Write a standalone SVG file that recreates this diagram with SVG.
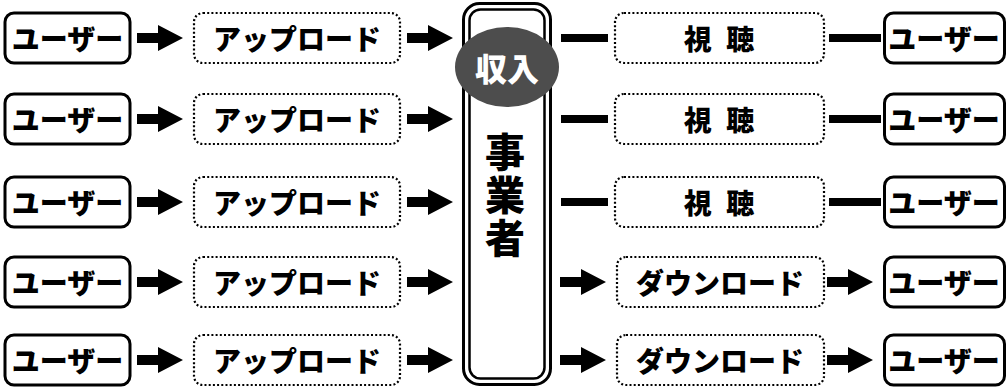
<svg xmlns="http://www.w3.org/2000/svg" width="1007" height="387" viewBox="0 0 1007 387">
<style>
.user{fill:#fff;stroke:#000;stroke-width:3}
.act{fill:#fff;stroke:#000;stroke-width:2.2;stroke-dasharray:2 2.2}
.t{font-family:"Noto Sans CJK JP","Noto Sans CJK SC",sans-serif;font-weight:900;font-size:28px;fill:#000;text-anchor:middle;dominant-baseline:central}
.big{font-size:40px;writing-mode:vertical-rl;letter-spacing:3px}
.w{fill:#fff;font-size:32px}
.sp{word-spacing:8px}
.line{stroke:#000;stroke-width:8}
</style>
<defs>
<path id="arr" d="M0,-5 H21 V-13 L46,0 L21,13 V5 H0 Z" fill="#000"/>
</defs>
<rect width="1007" height="387" fill="#fff"/>
<g id="connectors">
<use href="#arr" x="137" y="38"/>
<use href="#arr" x="137" y="119"/>
<use href="#arr" x="137" y="202"/>
<use href="#arr" x="137" y="282"/>
<use href="#arr" x="137" y="360"/>
<use href="#arr" x="407" y="38"/>
<use href="#arr" x="407" y="119"/>
<use href="#arr" x="407" y="202"/>
<use href="#arr" x="407" y="282"/>
<use href="#arr" x="407" y="360"/>
<line class="line" x1="561" y1="38" x2="608" y2="38"/>
<line class="line" x1="561" y1="119" x2="608" y2="119"/>
<line class="line" x1="561" y1="202" x2="608" y2="202"/>
<use href="#arr" x="560" y="282"/>
<use href="#arr" x="560" y="360"/>
<line class="line" x1="829" y1="38" x2="881" y2="38"/>
<line class="line" x1="829" y1="119" x2="881" y2="119"/>
<line class="line" x1="829" y1="202" x2="881" y2="202"/>
<use href="#arr" x="827" y="282"/>
<use href="#arr" x="827" y="360"/>
</g>
<g id="user-l1"><rect class="user" x="5" y="13" width="125" height="50" rx="9"/><text class="t" x="67.5" y="38">ユーザー</text></g>
<g id="user-l2"><rect class="user" x="5" y="94" width="125" height="50" rx="9"/><text class="t" x="67.5" y="119">ユーザー</text></g>
<g id="user-l3"><rect class="user" x="5" y="177" width="125" height="50" rx="9"/><text class="t" x="67.5" y="202">ユーザー</text></g>
<g id="user-l4"><rect class="user" x="5" y="257" width="125" height="50" rx="9"/><text class="t" x="67.5" y="282">ユーザー</text></g>
<g id="user-l5"><rect class="user" x="5" y="335" width="125" height="50" rx="9"/><text class="t" x="67.5" y="360">ユーザー</text></g>
<g id="upload1"><rect class="act" x="194" y="13" width="206" height="50" rx="9"/><text class="t" x="297" y="38">アップロード</text></g>
<g id="upload2"><rect class="act" x="194" y="94" width="206" height="50" rx="9"/><text class="t" x="297" y="119">アップロード</text></g>
<g id="upload3"><rect class="act" x="194" y="177" width="206" height="50" rx="9"/><text class="t" x="297" y="202">アップロード</text></g>
<g id="upload4"><rect class="act" x="194" y="257" width="206" height="50" rx="9"/><text class="t" x="297" y="282">アップロード</text></g>
<g id="upload5"><rect class="act" x="194" y="335" width="206" height="50" rx="9"/><text class="t" x="297" y="360">アップロード</text></g>
<g id="operator">
<rect x="463.5" y="3.5" width="87" height="381" rx="16" fill="#fff" stroke="#000" stroke-width="3"/>
<rect x="469.5" y="9.5" width="75" height="369" rx="11" fill="none" stroke="#000" stroke-width="2.5"/>
<text class="t big" x="505" y="196">事業者</text>
</g>
<g id="income">
<ellipse cx="507" cy="67" rx="52" ry="40" fill="#4d4d4d"/>
<text class="t w" x="507" y="67">収入</text>
</g>
<g id="view1"><rect class="act" x="615" y="13" width="209" height="50" rx="9"/><text class="t sp" x="719" y="38">視 聴</text></g>
<g id="view2"><rect class="act" x="615" y="94" width="209" height="50" rx="9"/><text class="t sp" x="719" y="119">視 聴</text></g>
<g id="view3"><rect class="act" x="615" y="177" width="209" height="50" rx="9"/><text class="t sp" x="719" y="202">視 聴</text></g>
<g id="download4"><rect class="act" x="617" y="257" width="207" height="50" rx="9"/><text class="t" x="720" y="282">ダウンロード</text></g>
<g id="download5"><rect class="act" x="617" y="335" width="207" height="50" rx="9"/><text class="t" x="720" y="360">ダウンロード</text></g>
<g id="user-r1"><rect class="user" x="884.5" y="13" width="120" height="50" rx="9"/><text class="t" x="944" y="38">ユーザー</text></g>
<g id="user-r2"><rect class="user" x="884.5" y="94" width="120" height="50" rx="9"/><text class="t" x="944" y="119">ユーザー</text></g>
<g id="user-r3"><rect class="user" x="884.5" y="177" width="120" height="50" rx="9"/><text class="t" x="944" y="202">ユーザー</text></g>
<g id="user-r4"><rect class="user" x="884.5" y="257" width="120" height="50" rx="9"/><text class="t" x="944" y="282">ユーザー</text></g>
<g id="user-r5"><rect class="user" x="884.5" y="335" width="120" height="50" rx="9"/><text class="t" x="944" y="360">ユーザー</text></g>
</svg>
